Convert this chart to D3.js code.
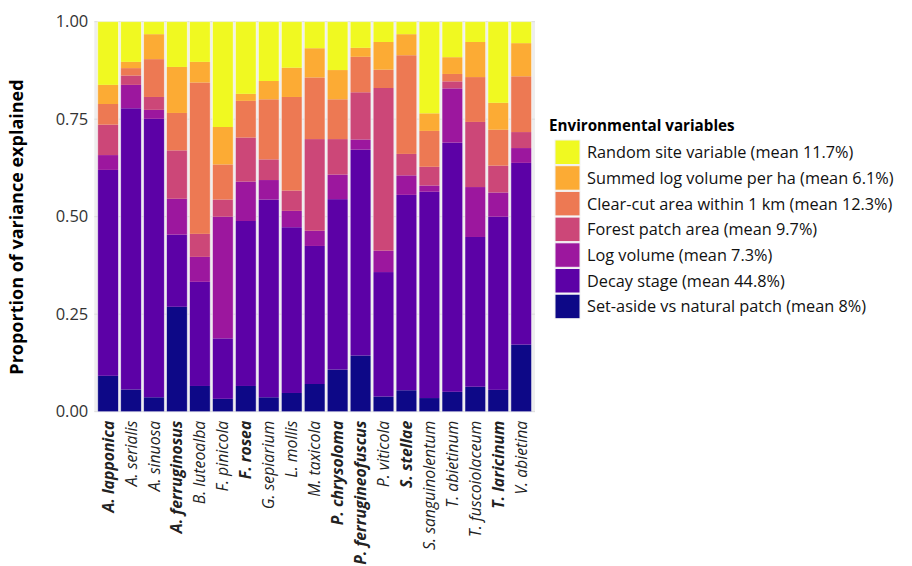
<!DOCTYPE html>
<html>
<head>
<meta charset="utf-8">
<script src="https://cdn.jsdelivr.net/npm/d3@7"></script>
<style>
  html, body { margin: 0; padding: 0; background: #fff; }
  svg { display: block; font-family: "Open Sans", "Noto Sans", sans-serif; }
</style>
</head>
<body>
<svg id="chart" width="912" height="566"></svg>
<script>
// ---- Data ----
const species = ["A. lapponica","A. serialis","A. sinuosa","A. ferruginosus","B. luteoalba","F. pinicola","F. rosea","G. sepiarium","L. mollis","M. taxicola","P. chrysoloma","P. ferrugineofuscus","P. viticola","S. stellae","S. sanguinolentum","T. abietinum","T. fuscoiolaceum","T. laricinum","V. abietina"];
const boldSpecies = ["A. lapponica","A. ferruginosus","F. rosea","P. chrysoloma","P. ferrugineofuscus","S. stellae","T. laricinum"];

// stacking order bottom -> top
const variables = ["setAside","decay","logVolume","forestPatch","clearCut","summedLog","randomSite"];
const legendLabels = {
  randomSite: "Random site variable (mean 11.7%)",
  summedLog: "Summed log volume per ha (mean 6.1%)",
  clearCut: "Clear-cut area within 1 km (mean 12.3%)",
  forestPatch: "Forest patch area (mean 9.7%)",
  logVolume: "Log volume (mean 7.3%)",
  decay: "Decay stage (mean 44.8%)",
  setAside: "Set-aside vs natural patch (mean 8%)"
};

const setAside    = [0.092,0.057,0.037,0.269,0.066,0.033,0.066,0.037,0.048,0.071,0.108,0.144,0.039,0.055,0.035,0.051,0.064,0.056,0.172];
const decay       = [0.528,0.721,0.714,0.185,0.267,0.155,0.423,0.507,0.425,0.354,0.437,0.528,0.319,0.501,0.529,0.639,0.384,0.444,0.466];
const logVolume   = [0.038,0.060,0.023,0.092,0.064,0.312,0.101,0.050,0.042,0.039,0.063,0.026,0.055,0.050,0.016,0.139,0.128,0.062,0.038];
const forestPatch = [0.078,0.024,0.033,0.124,0.059,0.044,0.113,0.053,0.052,0.235,0.091,0.121,0.417,0.055,0.048,0.018,0.167,0.069,0.041];
const clearCut    = [0.053,0.019,0.097,0.096,0.388,0.090,0.094,0.154,0.240,0.158,0.102,0.091,0.047,0.253,0.092,0.019,0.115,0.092,0.143];
const summedLog   = [0.049,0.016,0.064,0.118,0.053,0.096,0.018,0.047,0.075,0.075,0.075,0.023,0.071,0.054,0.045,0.043,0.090,0.069,0.085];
const randomSite  = [0.162,0.103,0.032,0.116,0.103,0.270,0.185,0.152,0.118,0.068,0.124,0.067,0.052,0.032,0.235,0.091,0.052,0.208,0.055];

const yTicks = [0, 0.25, 0.5, 0.75, 1.0];
const colors = ["#0d0887","#5c01a6","#9c179e","#cc4778","#ed7953","#fcab34","#f0f921"];

// ---- Build table ----
const series = {setAside, decay, logVolume, forestPatch, clearCut, summedLog, randomSite};
const rows = species.map((s, i) => {
  const r = {species: s};
  variables.forEach(v => r[v] = series[v][i]);
  return r;
});
const stacked = d3.stack().keys(variables)(rows);
const color = d3.scaleOrdinal().domain(variables).range(colors);

// ---- Layout ----
const svg = d3.select("#chart");
const panel = {left: 94.3, right: 535, top: 21.7, bottom: 411.7};

const x = d3.scaleBand().domain(species).range([panel.left, panel.right]).paddingInner(0.1).paddingOuter(0.15);
const y = d3.scaleLinear().domain([0, 1]).range([panel.bottom, panel.top]);

// panel background
svg.append("rect")
  .attr("x", panel.left).attr("y", panel.top)
  .attr("width", panel.right - panel.left).attr("height", panel.bottom - panel.top)
  .attr("fill", "#eeeeee");

// gridlines
svg.append("g").selectAll("line").data(yTicks).join("line")
  .attr("x1", panel.left).attr("x2", panel.right)
  .attr("y1", d => y(d)).attr("y2", d => y(d))
  .attr("stroke", "#dcdcdc").attr("stroke-width", 1);

// bars
svg.append("g").selectAll("g").data(stacked).join("g")
  .attr("fill", d => color(d.key))
  .selectAll("rect").data(d => d).join("rect")
    .attr("x", d => x(d.data.species))
    .attr("width", x.bandwidth())
    .attr("y", d => y(d[1]))
    .attr("height", d => y(d[0]) - y(d[1]))
    .attr("stroke", "none");

// white separators between bars (bar outline look)
svg.append("g").selectAll("rect").data(species).join("rect")
  .attr("x", d => x(d)).attr("y", panel.top)
  .attr("width", x.bandwidth()).attr("height", panel.bottom - panel.top)
  .attr("fill", "none").attr("stroke", "#ffffff").attr("stroke-width", 0.8).attr("stroke-opacity", 0.6);

// y axis
const yAxis = d3.axisLeft(y).tickValues(yTicks).tickFormat(d3.format(".2f")).tickSize(0).tickPadding(6);
const ya = svg.append("g").attr("transform", `translate(${panel.left},0)`).call(yAxis);
ya.select(".domain").remove();
ya.selectAll("text").attr("font-size", 16.5).attr("fill", "#333").attr("font-family", "'Open Sans', sans-serif");

// x axis
const xAxis = d3.axisBottom(x).tickSize(0).tickPadding(0);
const xa = svg.append("g").attr("transform", `translate(0,${panel.bottom})`).call(xAxis);
xa.select(".domain").remove();
xa.selectAll("text")
  .attr("transform", "rotate(-90)")
  .attr("text-anchor", "end")
  .attr("x", -9).attr("y", 0).attr("dy", "0.35em")
  .attr("font-size", 15.8)
  .attr("font-style", "italic")
  .attr("font-weight", d => boldSpecies.includes(d) ? "bold" : "normal")
  .attr("fill", "#222")
  .attr("font-family", "'Open Sans', sans-serif");

// y title
svg.append("text")
  .attr("transform", `translate(23,227) rotate(-90)`)
  .attr("text-anchor", "middle")
  .attr("font-size", 18).attr("font-weight", "bold").attr("fill", "#000")
  .text("Proportion of variance explained");

// legend
const legendOrder = variables.slice().reverse();
const lg = svg.append("g").attr("transform", "translate(549,0)");
lg.append("text").attr("x", 0).attr("y", 131)
  .attr("font-size", 15.2).attr("font-weight", "bold").attr("fill", "#000")
  .text("Environmental variables");
const item = lg.selectAll("g.item").data(legendOrder).join("g").attr("class", "item")
  .attr("transform", (d, i) => `translate(6,${140 + i * 25.7})`);
item.append("rect").attr("width", 25).attr("height", 24.5)
  .attr("fill", d => color(d)).attr("stroke", "#f2f2f2").attr("stroke-width", 1);
item.append("text").attr("x", 32).attr("y", 12.5).attr("dy", "0.35em")
  .attr("font-size", 16.3).attr("fill", "#111")
  .text(d => legendLabels[d]);
</script>
</body>
</html>
